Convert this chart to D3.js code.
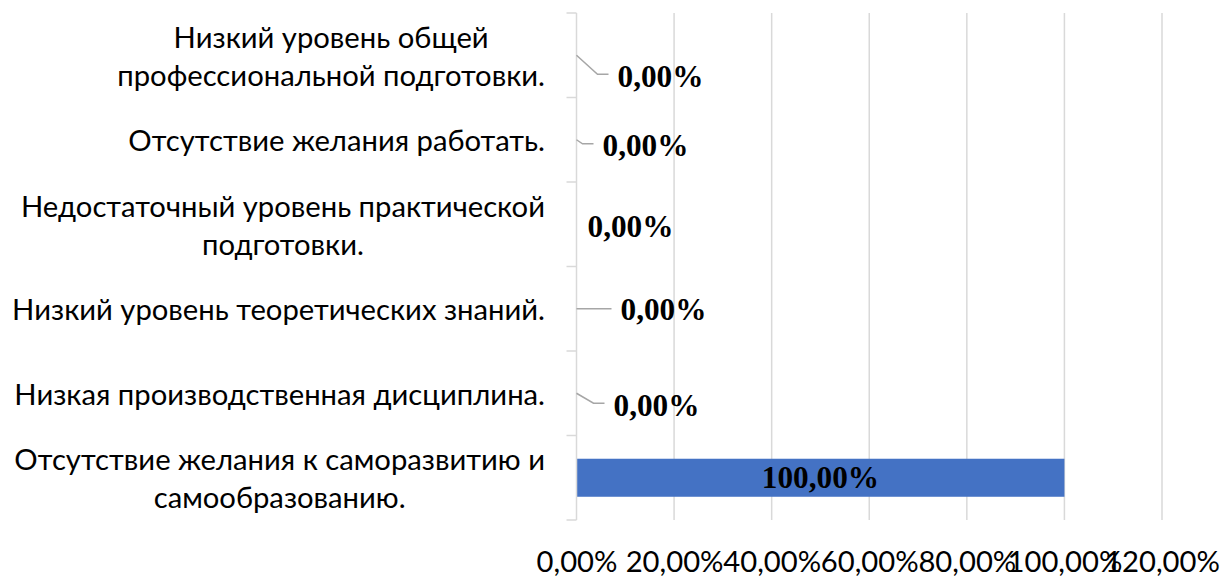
<!DOCTYPE html>
<html><head><meta charset="utf-8">
<script src="https://cdn.jsdelivr.net/npm/d3@7"></script>
<style>html,body{margin:0;padding:0;background:#fff;}svg{display:block;}</style>
</head><body>
<svg id="chart" width="1221" height="576"></svg>
<script>
// ---- data ----
const categories = [
  "Низкий уровень общей\nпрофессиональной подготовки.",
  "Отсутствие желания работать.",
  "Недостаточный уровень практической\nподготовки.",
  "Низкий уровень теоретических знаний.",
  "Низкая производственная дисциплина.",
  "Отсутствие желания к саморазвитию и\nсамообразованию."
];
const values = [0, 0, 0, 0, 0, 100];
const xTicks = [0, 20, 40, 60, 80, 100, 120];

// ---- layout / style (not data) ----
const W = 1221, H = 576;
const plot = {left: 576.5, right: 1162, top: 13, bottom: 520};
// displaced label offsets (Excel-style leader lines): [dx of text start, dy of text center, leader]
const labelLayout = [
  {dx: 41, dy: 21, leader: "bend"},
  {dx: 26, dy: 6, leader: "bend"},
  {dx: 11, dy: 2, leader: null},
  {dx: 44, dy: 1, leader: "straight"},
  {dx: 37, dy: 12, leader: "bend"}
];

const svg = d3.select("#chart");
const fmt = v => d3.format(".2f")(v).replace(".", ",") + "%";

const x = d3.scaleLinear().domain([0, 120]).range([plot.left, plot.right]);
const y = d3.scaleBand().domain(categories).range([plot.top, plot.bottom])
  .paddingInner(0.55).paddingOuter(0.275);
const step = y.step();
const center = c => y(c) + y.bandwidth() / 2;

// fit fonts
const sansFamily = "Lato, 'Open Sans', sans-serif";
const serifFamily = "'Liberation Serif', 'Times New Roman', serif";
function fitSize(text, family, weight, target) {
  const t = svg.append("text").attr("font-family", family).attr("font-weight", weight)
    .attr("font-size", 100).text(text);
  const w = t.node().getComputedTextLength();
  t.remove();
  return 100 * target / w;
}
const sansSize = fitSize("Низкий уровень теоретических знаний.", sansFamily, "normal", 533);
const serifSize = fitSize("0,00%", serifFamily, "bold", 86);

// gridlines
const grid = svg.append("g");
grid.selectAll("line").data(xTicks.filter(t => t > 0)).join("line")
  .attr("x1", d => x(d)).attr("x2", d => x(d))
  .attr("y1", plot.top).attr("y2", plot.bottom)
  .attr("stroke", "#d9d9d9").attr("stroke-width", 1.5);

// x axis labels
const xAxis = d3.axisBottom(x).tickValues(xTicks).tickFormat(fmt).tickSize(0).tickPadding(0);
const gx = svg.append("g").attr("transform", `translate(0,${plot.bottom})`).call(xAxis);
gx.select(".domain").remove();
gx.selectAll("text").attr("font-family", sansFamily).attr("font-size", sansSize)
  .attr("fill", "#000").attr("dy", null).attr("y", 40).attr("dominant-baseline", "central");

// bars
svg.append("g").selectAll("rect").data(categories).join("rect")
  .attr("x", x(0))
  .attr("y", c => y(c))
  .attr("width", (c, i) => x(values[i]) - x(0))
  .attr("height", y.bandwidth())
  .attr("fill", "#4472c4");

// y axis line + ticks
const gy = svg.append("g");
gy.append("line").attr("x1", plot.left).attr("x2", plot.left)
  .attr("y1", plot.top).attr("y2", plot.bottom).attr("stroke", "#d9d9d9").attr("stroke-width", 1.5);
const bounds = [plot.top].concat(categories.map(c => center(c) + step / 2));
gy.selectAll("line.tk").data(bounds).join("line").attr("class", "tk")
  .attr("x1", plot.left - 10).attr("x2", plot.left)
  .attr("y1", d => d).attr("y2", d => d)
  .attr("stroke", "#d9d9d9").attr("stroke-width", 1.5);

// category labels
const labelRight = 545;
const cl = svg.append("g");
categories.forEach(c => {
  const lines = c.split("\n");
  const lh = 38;
  // measure widest line to center lines in a right-aligned block
  const tmp = cl.append("g");
  const widths = lines.map(l => {
    const t = tmp.append("text").attr("font-family", sansFamily).attr("font-size", sansSize).text(l);
    return t.node().getComputedTextLength();
  });
  tmp.remove();
  const maxW = d3.max(widths);
  const cx = labelRight - maxW / 2;
  lines.forEach((l, i) => {
    cl.append("text")
      .attr("x", cx)
      .attr("y", center(c) + (i - (lines.length - 1) / 2) * lh)
      .attr("text-anchor", "middle")
      .attr("dominant-baseline", "central")
      .attr("font-family", sansFamily).attr("font-size", sansSize).attr("fill", "#000")
      .text(l);
  });
});

// data labels
const dl = svg.append("g");
categories.forEach((c, i) => {
  const v = values[i];
  const cy = center(c);
  if (v === 0) {
    const L = labelLayout[i];
    const tx = x(v) + L.dx, ty = cy + L.dy;
    if (L.leader === "bend") {
      dl.append("path")
        .attr("d", `M${x(v)},${cy} L${tx - 20},${ty - 2} L${tx - 9},${ty - 2}`)
        .attr("fill", "none").attr("stroke", "#a6a6a6").attr("stroke-width", 1.5);
    } else if (L.leader === "straight") {
      dl.append("path")
        .attr("d", `M${x(v)},${cy} L${tx - 9},${cy}`)
        .attr("fill", "none").attr("stroke", "#a6a6a6").attr("stroke-width", 1.5);
    }
    dl.append("text").attr("x", tx).attr("y", ty + serifSize * 0.34)
      .attr("font-family", serifFamily).attr("font-weight", "bold").attr("font-size", serifSize)
      .attr("fill", "#000").text(fmt(v));
  } else {
    dl.append("text").attr("x", (x(0) + x(v)) / 2).attr("y", cy + serifSize * 0.34)
      .attr("text-anchor", "middle")
      .attr("font-family", serifFamily).attr("font-weight", "bold").attr("font-size", serifSize)
      .attr("fill", "#000").text(fmt(v));
  }
});
</script>
</body></html>
